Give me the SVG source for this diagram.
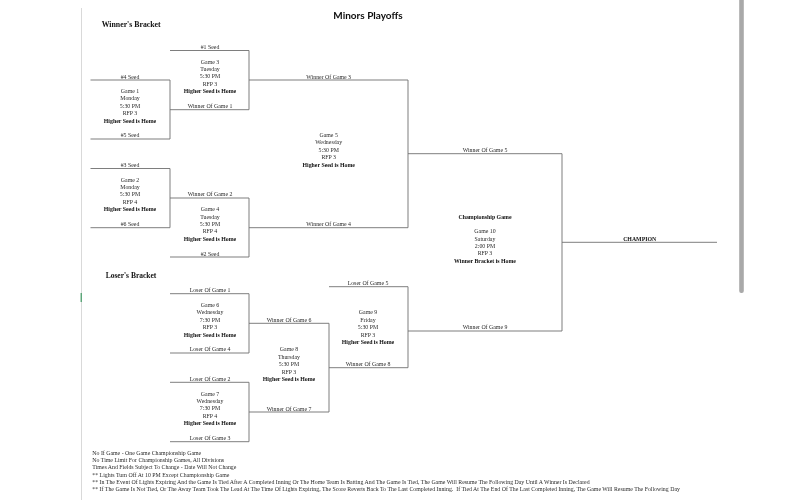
<svg xmlns="http://www.w3.org/2000/svg" width="805" height="500" viewBox="0 0 805 500">
<style>
text{font-family:"Liberation Serif","Times New Roman",serif;font-size:5.85px;fill:#2a2a2a;text-anchor:middle}
.b{font-weight:bold;fill:#111}
.h{font-weight:bold;font-size:7.6px;text-anchor:start;fill:#111}
.t{font-family:"Lato","Liberation Sans",sans-serif;font-weight:700;font-size:10px;fill:#111}
.f{text-anchor:start;white-space:pre}
.c{fill:none;stroke:#707070;stroke-width:.9}
</style>
<defs><filter id="s" x="0" y="0" width="1" height="1" filterUnits="objectBoundingBox"><feGaussianBlur stdDeviation="0.25"/></filter></defs>
<rect width="805" height="500" fill="#fff"/>
<g id="chrome">
<rect x="81" y="8" width="1" height="492" fill="#d9d9d9"/>
<rect x="80.6" y="293" width="1.2" height="9" fill="#3f9a63"/>
<rect x="739.2" y="-5" width="4.6" height="298" rx="2" fill="#a9a9a9"/>
</g>
<g filter="url(#s)">
<g id="connectors" class="c">
<path d="M170 50.5H249V109.7H170"/>
<path d="M90.5 80H170V139H90.5"/>
<path d="M90.5 168.5H170V227.7H90.5"/>
<path d="M170 198H249V257H170"/>
<path d="M249 80H408V227.7H249"/>
<path d="M408 153.7H562V331H408"/>
<path d="M562 242.3H717"/>
<path d="M170 293.7H249V353H170"/>
<path d="M170 382.3H249V441.7H170"/>
<path d="M249 323.3H329V412H249"/>
<path d="M329 286.7H408V367.7H329"/>
</g>
<g id="title"><text class="t" x="368" y="19">Minors Playoffs</text></g>
<g id="winners-heading"><text class="h" style="font-size:7.8px" x="101.7" y="27">Winner's Bracket</text></g>
<g id="losers-heading"><text class="h" style="font-size:7.5px" x="105.7" y="278">Loser's Bracket</text></g>
<g id="game1">
<text x="130" y="78.5">#4 Seed</text>
<text x="130" y="93">Game 1</text><text x="130" y="100.4">Monday</text><text x="130" y="107.8">5:30 PM</text><text x="130" y="115.2">RFP 3</text><text class="b" x="130" y="122.6">Higher Seed is Home</text>
<text x="130" y="137">#5 Seed</text>
</g>
<g id="game2">
<text x="130" y="167">#3 Seed</text>
<text x="130" y="181.5">Game 2</text><text x="130" y="188.9">Monday</text><text x="130" y="196.3">5:30 PM</text><text x="130" y="203.7">RFP 4</text><text class="b" x="130" y="211.1">Higher Seed is Home</text>
<text x="130" y="226">#6 Seed</text>
</g>
<g id="game3">
<text x="210" y="49">#1 Seed</text>
<text x="210" y="63.5">Game 3</text><text x="210" y="70.9">Tuesday</text><text x="210" y="78.3">5:30 PM</text><text x="210" y="85.7">RFP 3</text><text class="b" x="210" y="93.1">Higher Seed is Home</text>
<text x="210" y="108">Winner Of Game 1</text>
</g>
<g id="game4">
<text x="210" y="196.3">Winner Of Game 2</text>
<text x="210" y="211.2">Game 4</text><text x="210" y="218.6">Tuesday</text><text x="210" y="226">5:30 PM</text><text x="210" y="233.4">RFP 4</text><text class="b" x="210" y="240.8">Higher Seed is Home</text>
<text x="210" y="255.7">#2 Seed</text>
</g>
<g id="game5">
<text x="328.7" y="78.5">Winner Of Game 3</text>
<text x="328.7" y="137">Game 5</text><text x="328.7" y="144.4">Wednesday</text><text x="328.7" y="151.8">5:30 PM</text><text x="328.7" y="159.2">RFP 3</text><text class="b" x="328.7" y="166.6">Higher Seed is Home</text>
<text x="328.7" y="226">Winner Of Game 4</text>
</g>
<g id="game6">
<text x="210" y="292.2">Loser Of Game 1</text>
<text x="210" y="307">Game 6</text><text x="210" y="314.4">Wednesday</text><text x="210" y="321.8">7:30 PM</text><text x="210" y="329.2">RFP 3</text><text class="b" x="210" y="336.6">Higher Seed is Home</text>
<text x="210" y="351.3">Loser Of Game 4</text>
</g>
<g id="game7">
<text x="210" y="380.6">Loser Of Game 2</text>
<text x="210" y="395.6">Game 7</text><text x="210" y="403">Wednesday</text><text x="210" y="410.4">7:30 PM</text><text x="210" y="417.8">RFP 4</text><text class="b" x="210" y="425.2">Higher Seed is Home</text>
<text x="210" y="440">Loser Of Game 3</text>
</g>
<g id="game8">
<text x="289" y="322">Winner Of Game 6</text>
<text x="289" y="351.3">Game 8</text><text x="289" y="358.7">Thursday</text><text x="289" y="366.1">5:30 PM</text><text x="289" y="373.5">RFP 3</text><text class="b" x="289" y="380.9">Higher Seed is Home</text>
<text x="289" y="410.6">Winner Of Game 7</text>
</g>
<g id="game9">
<text x="368" y="285">Loser Of Game 5</text>
<text x="368" y="314.3">Game 9</text><text x="368" y="321.7">Friday</text><text x="368" y="329.1">5:30 PM</text><text x="368" y="336.5">RFP 3</text><text class="b" x="368" y="343.9">Higher Seed is Home</text>
<text x="368" y="366">Winner Of Game 8</text>
</g>
<g id="game10">
<text x="485" y="152">Winner Of Game 5</text>
<text class="b" x="485" y="218.6">Championship Game</text>
<text x="485" y="233.2">Game 10</text><text x="485" y="240.6">Saturday</text><text x="485" y="248">2:00 PM</text><text x="485" y="255.4">RFP 3</text><text class="b" x="485" y="262.8">Winner Bracket is Home</text>
<text x="485" y="329">Winner Of Game 9</text>
</g>
<g id="champion"><text class="b" x="639.7" y="240.6">CHAMPION</text></g>
<g id="notes">
<text class="f" x="92.3" y="454.5">No If Game - One Game Championship Game</text>
<text class="f" x="92.3" y="462">No Time Limit For Championship Games, All Divisions</text>
<text class="f" x="92.3" y="469.3">Times And Fields Subject To Change - Date Will Not Change</text>
<text class="f" x="92.3" y="476.7">** Lights Turn Off At 10 PM Except Championship Game</text>
<text class="f" x="92.3" y="484">** In The Event Of Lights Expiring And the Game Is Tied After A Completed Inning Or The Home Team Is Batting And The Game Is Tied, The Game Will Resume The Following Day Until A Winner Is Declared</text>
<text class="f" x="92.3" y="491">** If The Game Is Not Tied, Or The Away Team Took The Lead At The Time Of Lights Expiring, The Score Reverts Back To The Last Completed Inning.  If Tied At The End Of The Last Completed Inning, The Game Will Resume The Following Day</text>
</g>
</g>
</svg>
